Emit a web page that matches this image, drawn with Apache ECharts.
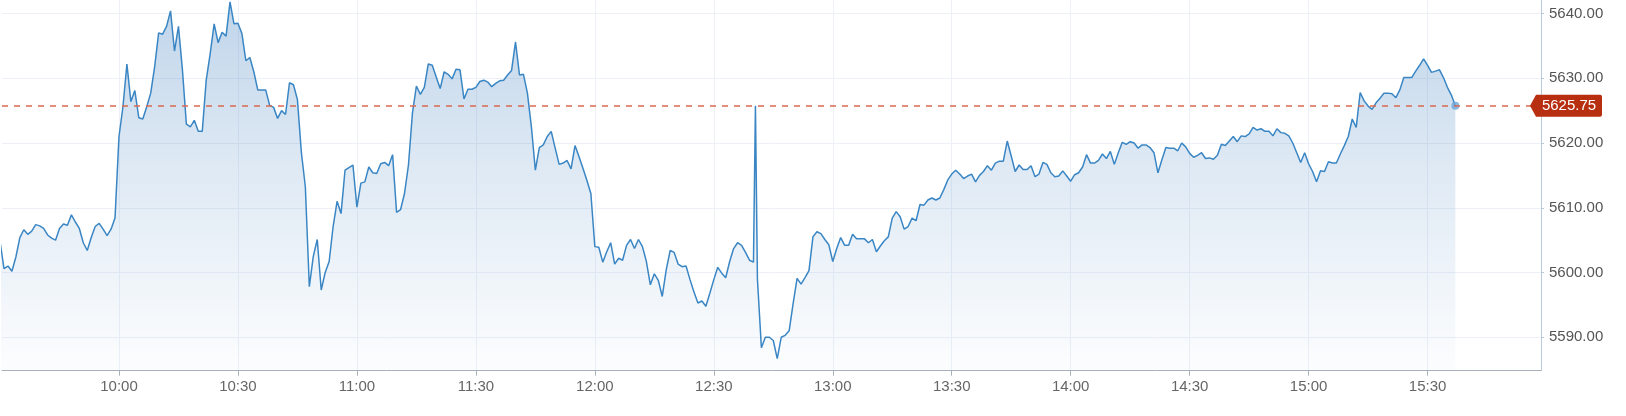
<!DOCTYPE html>
<html>
<head>
<meta charset="utf-8">
<script src="https://cdn.jsdelivr.net/npm/echarts@6/dist/echarts.min.js"></script>
<style>
html,body{margin:0;padding:0;background:#fff;}
#chart{width:1626px;height:416px;}
</style>
</head>
<body>
<div id="chart"></div>
<script>
// Per-minute prices, one array per half hour (first value at the start time)
const v0930 = [5604.8,5600.6,5601.0,5600.2,5602.4,5605.4,5606.6,5605.9,5606.4,5607.4,5607.2,5606.8,5605.8,5605.3,5605.0,5606.8,5607.5,5607.3,5608.9,5607.8,5606.8,5604.6,5603.4,5605.4,5607.1,5607.6,5606.7,5605.7,5606.7,5608.4];
const v1000 = [5621.0,5625.6,5632.2,5626.4,5628.1,5623.9,5623.7,5625.6,5627.7,5631.8,5637.0,5636.8,5638.0,5640.4,5634.2,5638.0,5631.3,5622.9,5622.5,5623.5,5621.8,5621.8,5629.7,5633.8,5638.4,5635.5,5637.1,5636.5,5641.8,5638.4];
const v1030 = [5638.5,5636.9,5632.7,5633.2,5631.0,5628.2,5628.2,5628.2,5625.8,5625.5,5623.8,5625.0,5624.4,5629.3,5629.0,5626.7,5618.5,5613.2,5597.8,5602.5,5605.1,5597.3,5600.0,5601.7,5607.1,5611.0,5609.1,5615.8,5616.2,5616.6];
const v1100 = [5610.1,5613.8,5614.0,5616.3,5615.4,5615.3,5616.8,5617.0,5616.5,5618.2,5609.3,5609.7,5612.2,5616.6,5624.6,5628.8,5627.5,5628.6,5632.2,5632.0,5630.2,5628.4,5631.0,5630.6,5629.9,5631.4,5631.3,5626.8,5628.3,5628.3];
const v1130 = [5628.6,5629.5,5629.7,5629.4,5628.7,5629.2,5629.6,5629.7,5630.5,5631.2,5635.6,5630.5,5630.6,5627.7,5622.5,5615.8,5619.3,5619.7,5621.0,5621.8,5619.2,5616.7,5616.9,5617.3,5616.0,5619.6,5617.9,5616.1,5614.2,5612.2];
const v1200 = [5604.0,5603.9,5601.6,5603.2,5604.6,5601.3,5602.2,5601.9,5604.2,5605.1,5603.7,5605.1,5604.0,5601.7,5598.1,5599.8,5598.8,5596.3,5600.4,5603.4,5603.1,5601.3,5600.9,5601.0,5598.9,5597.0,5595.3,5595.6,5594.8,5596.8];
const v1230 = [5598.9,5600.8,5599.9,5599.2,5601.7,5603.7,5604.6,5604.2,5603.1,5601.9,5601.6,5599.0,5588.4,5590.0,5590.0,5589.5,5586.7,5590.0,5590.3,5591.0,5595.2,5599.1,5598.2,5599.2,5600.3,5605.5,5606.3,5606.0,5605.1,5604.3];
const v1300 = [5601.7,5603.7,5605.4,5604.2,5604.2,5605.9,5605.2,5605.2,5605.2,5604.6,5605.1,5603.2,5604.1,5604.9,5605.5,5608.4,5609.4,5608.6,5606.7,5607.1,5608.4,5608.0,5610.5,5610.4,5611.2,5611.5,5611.2,5611.5,5612.8,5614.3];
const v1330 = [5615.2,5615.8,5615.2,5614.5,5614.9,5615.2,5614.0,5615.0,5615.6,5616.5,5615.8,5616.9,5617.2,5617.2,5620.3,5618.0,5615.6,5616.6,5615.9,5615.9,5616.5,5614.8,5615.2,5617.0,5616.7,5615.4,5614.8,5614.9,5615.7,5614.9];
const v1400 = [5614.1,5615.1,5615.4,5616.3,5618.2,5616.9,5616.9,5617.3,5618.3,5617.6,5618.7,5616.7,5618.5,5620.1,5619.8,5620.2,5620.0,5619.2,5619.7,5619.7,5619.3,5618.5,5615.4,5617.4,5619.3,5619.2,5619.2,5618.8,5620.0,5619.4];
const v1430 = [5618.4,5617.8,5618.1,5618.5,5617.6,5617.7,5617.5,5618.1,5619.8,5619.6,5620.3,5621.0,5620.2,5621.1,5621.0,5621.4,5622.4,5622.0,5622.2,5621.8,5621.8,5621.1,5622.2,5621.6,5621.5,5621.1,5620.0,5618.5,5617.0,5618.5];
const v1500 = [5616.8,5615.6,5614.0,5615.7,5615.6,5617.1,5616.9,5616.9,5618.3,5619.6,5621.0,5623.7,5622.4,5627.8,5626.5,5625.7,5625.2,5626.2,5626.9,5627.7,5627.7,5627.6,5627.0,5628.2,5630.1,5630.1,5630.1,5631.1,5632.0,5633.0];
const v1530 = [5632.0,5630.9,5631.1,5631.3,5630.1,5628.6,5627.4,5625.75];

// a single off-minute print (12:40:30)
const spikeTime = '12:40:30';
const spikeValue = 5625.75;

const lastPrice = 5625.75;
const startTime = '9:30';
const xTickLabels = ['10:00','10:30','11:00','11:30','12:00','12:30','13:00','13:30','14:00','14:30','15:00','15:30'];
const yTickLabels = [5590, 5600, 5610, 5620, 5630, 5640];

function toMin(s) {
  const p = s.split(':').map(Number);
  return p[0] * 60 + p[1] + (p[2] || 0) / 60;
}
function fmt(m) {
  const h = Math.floor(m / 60), mm = Math.round(m - h * 60);
  return h + ':' + (mm < 10 ? '0' : '') + mm;
}

const all = [].concat(v0930, v1000, v1030, v1100, v1130, v1200, v1230, v1300, v1330, v1400, v1430, v1500, v1530);
const t0 = toMin(startTime);
const data = all.map((v, i) => [t0 + i, v]);
const st = toMin(spikeTime);
const insAt = data.findIndex(d => d[0] > st);
data.splice(insAt, 0, [st, spikeValue]);
const lastPt = data[data.length - 1];

const xMin = 570.5, xMax = 958.6;
const yMin = 5584.84, yMax = 5642.08;

const FONT = "'Liberation Sans', Arial, sans-serif";

const chart = echarts.init(document.getElementById('chart'), null, {renderer: 'canvas'});
chart.setOption({
  animation: false,
  backgroundColor: '#ffffff',
  grid: {left: 2, right: 85, top: 0, bottom: 45.3, containLabel: false},
  xAxis: {
    type: 'value',
    min: xMin, max: xMax,
    axisLine: {show: true, lineStyle: {color: '#a9b1bc', width: 1}},
    axisTick: {show: true, length: 5, customValues: xTickLabels.map(toMin), lineStyle: {color: '#a9b1bc'}},
    axisLabel: {
      show: true, customValues: xTickLabels.map(toMin), margin: 9,
      color: '#666666', fontSize: 15, fontFamily: FONT,
      formatter: v => fmt(v)
    },
    splitLine: {show: true, lineStyle: {color: '#edf1f7', width: 1}}
  },
  yAxis: {
    type: 'value',
    position: 'right',
    min: yMin, max: yMax,
    axisLine: {show: true, lineStyle: {color: '#b8c9dc', width: 1}},
    axisTick: {show: true, length: 3, customValues: yTickLabels, lineStyle: {color: '#b8c9dc'}},
    axisLabel: {
      show: true, customValues: yTickLabels, margin: 8,
      color: '#555555', fontSize: 15, fontFamily: FONT,
      formatter: v => v.toFixed(2)
    },
    splitLine: {show: true, lineStyle: {color: '#edf1f7', width: 1}}
  },
  series: [
    {
      type: 'line',
      data: data,
      showSymbol: false,
      symbol: 'none',
      z: 3,
      lineStyle: {color: '#3a86c4', width: 1.5},
      areaStyle: {
        color: new echarts.graphic.LinearGradient(0, 0, 0, 1, [
          {offset: 0, color: 'rgba(45,115,185,0.43)'},
          {offset: 0.45, color: 'rgba(45,115,185,0.22)'},
          {offset: 1, color: 'rgba(45,115,185,0.02)'}
        ])
      },
      markLine: {
        silent: true,
        symbol: ['none', 'none'],
        label: {show: false},
        lineStyle: {color: '#d9694f', type: [6, 6], width: 1.5},
        data: [{yAxis: lastPrice}]
      },
      markPoint: {
        silent: true,
        data: [{
          coord: [xMax, lastPrice],
          symbol: 'path://M0,11 L6,0 L70,0 Q72,0 72,2 L72,20 Q72,22 70,22 L6,22 Z',
          symbolSize: [72, 22],
          symbolOffset: [25, 0],
          itemStyle: {color: '#b72f10'},
          label: {
            show: true, position: 'inside', offset: [3, 0],
            formatter: () => lastPrice.toFixed(2),
            color: '#ffffff', fontSize: 15, fontFamily: FONT
          }
        }]
      }
    },
    {
      type: 'scatter',
      data: [lastPt],
      symbolSize: 8,
      z: 4,
      itemStyle: {color: '#6aa6d8'}
    }
  ]
});
</script>
</body>
</html>
